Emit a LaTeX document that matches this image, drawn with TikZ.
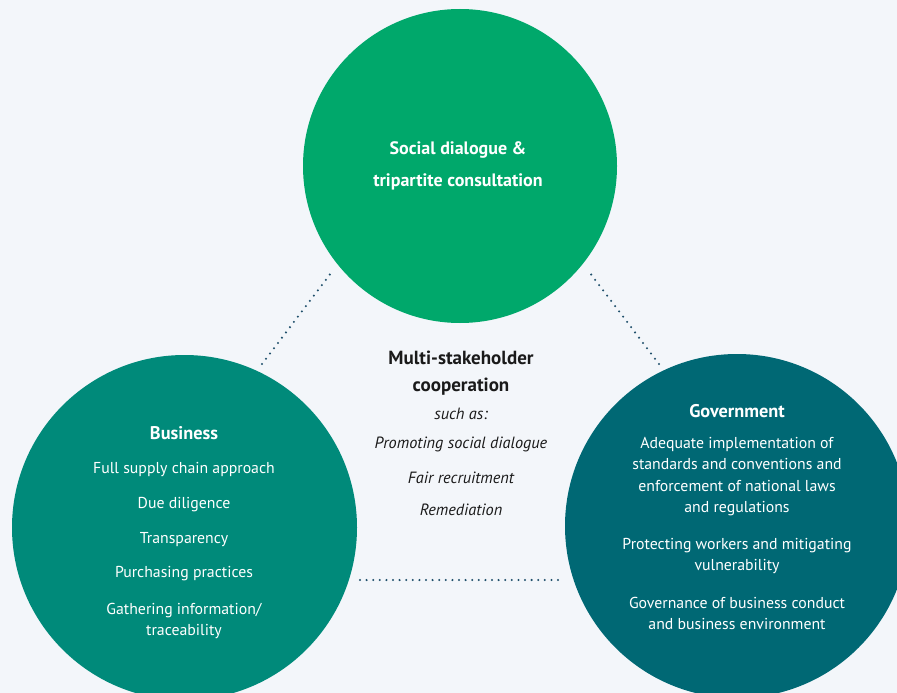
\documentclass[tikz,border=0pt]{standalone}
\usepackage{fontspec}
\setmainfont{PT Sans}
\definecolor{bgpaper}{HTML}{F3F6FA}
\definecolor{dialoguegreen}{HTML}{00A86B}
\definecolor{businessteal}{HTML}{008A7A}
\definecolor{governmentteal}{HTML}{006874}
\definecolor{dotblue}{HTML}{1F4F6B}
\definecolor{inktext}{HTML}{1A1A1A}
\tikzset{
  bubble/.style={circle, inner sep=0pt, draw=none},
  dotline/.style={dotblue, line width=2.3pt, line cap=round, dash pattern=on 0pt off 6.6pt},
  heading/.style={text=white, font=\fontsize{18.3}{32}\selectfont\bfseries, align=center},
  item/.style={text=white, font=\fontsize{15.8}{21.5}\selectfont, align=center},
  midhead/.style={text=inktext, font=\fontsize{19}{27}\selectfont\bfseries, align=center},
  miditem/.style={text=inktext, font=\fontsize{16.3}{21.5}\selectfont\itshape},
}
\begin{document}
\begin{tikzpicture}[x=1pt,y=-1pt]
  \fill[bgpaper] (0,0) rectangle (897,693);
  \useasboundingbox (0,0) rectangle (897,693);

  % the three circles
  \begin{scope}
    \clip (0,0) rectangle (897,693);
    \node[bubble, fill=dialoguegreen, minimum size=314pt] (social) at (460,166) {};
    \node[bubble, fill=businessteal, minimum size=345pt] (business) at (184.5,527.5) {};
    \node[bubble, fill=governmentteal, minimum size=344pt] (government) at (737,526) {};
  \end{scope}

  % dotted links in the gaps
  \coordinate (bsA) at (262,364);
  \coordinate (bsB) at (331,273);
  \coordinate (gsA) at (659,364);
  \coordinate (gsB) at (590,273);
  \coordinate (bgA) at (360,580);
  \coordinate (bgB) at (563,580);
  \draw[dotline] (bsA) -- (bsB);
  \draw[dotline] (gsA) -- (gsB);
  \draw[dotline] (bgA) -- (bgB);

  % top circle
  \node[heading, font=\fontsize{18}{32}\selectfont\bfseries] (socialtext) at (458,166) {Social dialogue \&\\tripartite consultation};

  % middle
  \node[midhead] (coop) at (461,373) {Multi-stakeholder\\cooperation};
  \node[miditem] (suchas) at (461,414) {such as:};
  \node[miditem] (promo) at (461,444.5) {Promoting social dialogue};
  \node[miditem] (fair) at (461,478) {Fair recruitment};
  \node[miditem] (remed) at (461,510) {Remediation};

  % business
  \node[heading] (bustitle) at (184,433) {Business};
  \foreach \y/\t [count=\i] in {470/Full supply chain approach, 505/Due diligence,
      540/Transparency, 574/Purchasing practices,
      621/{Gathering information/\\traceability}}
    \node[item] (bus\i) at (184,\y) {\t};

  % government
  \node[heading] (govtitle) at (737,411) {Government};
  \node[item] (gov1) at (737,476.5) {Adequate implementation of\\standards and conventions and\\enforcement of national laws\\and regulations};
  \node[item] (gov2) at (737,556) {Protecting workers and mitigating\\vulnerability};
  \node[item] (gov3) at (737,613.5) {Governance of business conduct\\and business environment};
\end{tikzpicture}
\end{document}
